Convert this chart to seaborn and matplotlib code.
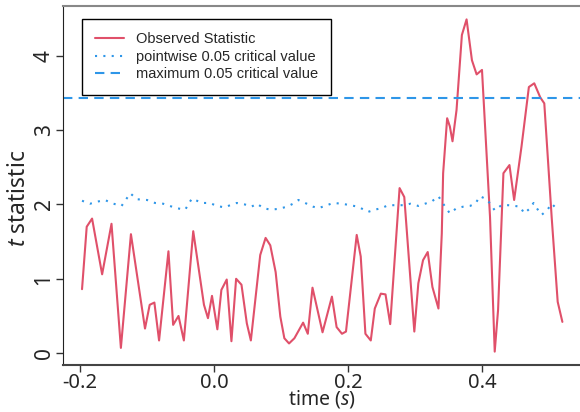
import matplotlib
matplotlib.use("Agg")
import matplotlib.pyplot as plt
import seaborn as sns

# --- DATA ---
time_obs = [-0.197, -0.190, -0.182, -0.167, -0.153, -0.139, -0.124, -0.103, -0.096, -0.089,
            -0.082, -0.068, -0.061, -0.053, -0.045, -0.031, -0.015, -0.009, -0.003, 0.005,
            0.011, 0.019, 0.026, 0.033, 0.041, 0.049, 0.055, 0.069, 0.077, 0.084,
            0.092, 0.099, 0.105, 0.112, 0.120, 0.133, 0.140, 0.147, 0.162, 0.176,
            0.183, 0.191, 0.197, 0.213, 0.219, 0.226, 0.234, 0.240, 0.249, 0.256,
            0.263, 0.277, 0.284, 0.299, 0.305, 0.312, 0.319, 0.326, 0.335, 0.340,
            0.342, 0.348, 0.352, 0.356, 0.362, 0.370, 0.377, 0.385, 0.392, 0.400,
            0.412, 0.419, 0.424, 0.432, 0.441, 0.448, 0.459, 0.470, 0.478, 0.487,
            0.493, 0.504, 0.513, 0.520]
t_obs = [0.86, 1.70, 1.81, 1.06, 1.74, 0.07, 1.60, 0.33, 0.65, 0.68,
         0.17, 1.37, 0.38, 0.50, 0.17, 1.64, 0.65, 0.47, 0.77, 0.32,
         0.85, 0.99, 0.16, 1.00, 0.92, 0.40, 0.17, 1.32, 1.55, 1.45,
         1.09, 0.49, 0.20, 0.13, 0.20, 0.41, 0.26, 0.88, 0.28, 0.76,
         0.35, 0.26, 0.29, 1.59, 1.30, 0.26, 0.17, 0.60, 0.80, 0.79,
         0.39, 2.22, 2.10, 0.29, 0.94, 1.25, 1.36, 0.89, 0.60, 1.61,
         2.42, 3.16, 3.05, 2.85, 3.27, 4.28, 4.49, 3.94, 3.75, 3.81,
         1.83, 0.02, 0.58, 2.42, 2.53, 2.06, 2.78, 3.58, 3.63, 3.44,
         3.36, 1.83, 0.69, 0.42]

time_pw = [-0.197, -0.185, -0.173, -0.163, -0.150, -0.138, -0.125, -0.115, -0.100, -0.088,
           -0.076, -0.066, -0.056, -0.043, -0.033, -0.018, -0.006, 0.004, 0.016, 0.024,
           0.034, 0.046, 0.056, 0.064, 0.074, 0.084, 0.096, 0.109, 0.118, 0.126,
           0.136, 0.148, 0.156, 0.178, 0.191, 0.203, 0.215, 0.230, 0.240, 0.250,
           0.260, 0.273, 0.285, 0.293, 0.305, 0.315, 0.325, 0.335, 0.342, 0.352,
           0.362, 0.372, 0.382, 0.390, 0.397, 0.407, 0.414, 0.419, 0.429, 0.439,
           0.449, 0.457, 0.463, 0.472, 0.477, 0.484, 0.489, 0.497, 0.504, 0.514]
crit_pw = [2.05, 2.01, 2.04, 2.06, 2.01, 1.98, 2.15, 2.07, 2.06, 2.02,
           2.01, 1.98, 1.95, 1.93, 2.08, 2.02, 2.02, 1.98, 1.96, 1.99,
           2.02, 2.00, 1.97, 2.01, 1.95, 1.93, 1.94, 1.97, 2.01, 2.06,
           2.02, 1.97, 1.95, 2.02, 2.01, 1.99, 1.97, 1.90, 1.93, 1.95,
           1.99, 1.99, 1.99, 2.01, 1.98, 2.01, 2.04, 2.11, 2.01, 1.88,
           1.95, 1.97, 1.98, 2.01, 2.11, 2.07, 1.99, 1.92, 1.99, 1.99,
           1.98, 1.97, 1.88, 1.95, 2.02, 1.92, 1.86, 1.92, 2.01, 1.92]

crit_max = 3.43

# --- STYLE ---
sns.set_style("ticks")
plt.rcParams["font.family"] = ["Noto Sans", "DejaVu Sans"]
plt.rcParams["axes.unicode_minus"] = False
plt.rcParams["mathtext.fontset"] = "custom"
plt.rcParams["mathtext.it"] = "Noto Sans:italic"
plt.rcParams["mathtext.rm"] = "Noto Sans"

red = "#e0506a"
blue = "#2e96e8"

fig = plt.figure(figsize=(5.8, 4.12), dpi=100)
ax = fig.add_axes([63 / 580, 47 / 412, 517 / 580, 359 / 412])

sns.lineplot(x=time_obs, y=t_obs, ax=ax, color=red, lw=1.5, sort=False,
             label="Observed Statistic")
sns.lineplot(x=time_pw, y=crit_pw, ax=ax, color=blue, lw=1.5, sort=False,
             linestyle=(0, (1, 3)), label="pointwise 0.05 critical value")
ax.axhline(crit_max, color=blue, lw=1.5, linestyle=(0, (4.5, 3)),
           label="maximum 0.05 critical value")

ax.set_xlim(-0.2254, 0.5463)
ax.set_ylim(-0.16, 4.67)
ax.set_xticks([-0.2, 0.0, 0.2, 0.4])
ax.set_xticklabels(["-0.2", "0.0", "0.2", "0.4"])
ax.set_yticks([0, 1, 2, 3, 4])
ax.tick_params(axis="both", labelsize=15, length=5, width=1, color="#333333")
ax.tick_params(axis="x", pad=1, labelsize=14.5)
ax.tick_params(axis="y", pad=1)
for lab in ax.get_yticklabels():
    lab.set_rotation(90)
    lab.set_va("center")

ax.set_xlabel("time ($\\it{s}$)", fontsize=14, labelpad=-4)
ax.set_ylabel("$\\it{t}$ statistic", fontsize=16.5)
ax.yaxis.set_label_coords(-0.062, 0.465)

ax.spines["right"].set_visible(False)
ax.spines["top"].set_color("#888888")
ax.spines["top"].set_linewidth(1.5)
ax.spines["left"].set_color("#222222")
ax.spines["bottom"].set_color("#444444")
ax.spines["bottom"].set_linewidth(1.5)

leg = ax.legend(loc="upper left", bbox_to_anchor=(0.0368, 0.9638), borderaxespad=0,
                fancybox=False, framealpha=1, edgecolor="black",
                prop={"family": "Liberation Sans", "size": 10.5},
                handlelength=1.95, handletextpad=0.85, borderpad=0.9, labelspacing=0.25)
leg.get_frame().set_linewidth(1.0)

plt.savefig("out.png", dpi=100)
plt.close()
